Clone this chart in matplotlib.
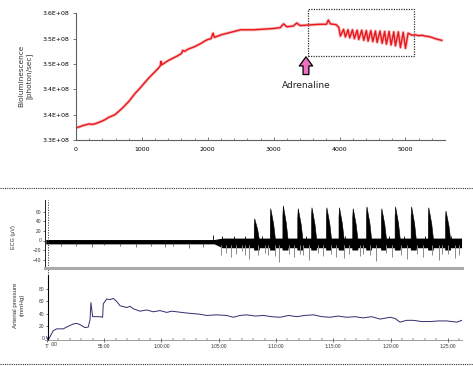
import numpy as np
import matplotlib.pyplot as plt
from matplotlib.lines import Line2D
from matplotlib.patches import Rectangle

# ---------------- top panel: bioluminescence (units of 1e8 photon/sec) ----------------
biolum_pre_x = [0, 50, 100, 150, 200, 250, 300, 350, 400, 450, 500, 550, 600, 650, 700,
                750, 800, 850, 900, 950, 1000, 1050, 1100, 1150, 1200, 1250, 1280, 1290,
                1300, 1350, 1400, 1450, 1500, 1550, 1600, 1620, 1650, 1700, 1750, 1800,
                1850, 1900, 1950, 2000, 2050, 2080, 2100, 2150, 2200, 2250, 2300, 2350,
                2400, 2450, 2500, 2600, 2700, 2800, 2900, 3000, 3100, 3150, 3200, 3300,
                3350, 3400, 3500, 3600, 3700, 3800, 3830, 3860, 3950, 3990]
biolum_pre_y = [3.329, 3.331, 3.334, 3.336, 3.338, 3.337, 3.339, 3.342, 3.345, 3.349,
                3.354, 3.357, 3.361, 3.368, 3.375, 3.383, 3.391, 3.401, 3.411, 3.419,
                3.428, 3.437, 3.446, 3.454, 3.462, 3.470, 3.476, 3.486, 3.478, 3.483,
                3.488, 3.492, 3.496, 3.500, 3.505, 3.512, 3.510, 3.515, 3.518, 3.521,
                3.525, 3.529, 3.534, 3.538, 3.540, 3.553, 3.543, 3.546, 3.549, 3.551,
                3.553, 3.555, 3.557, 3.559, 3.561, 3.561, 3.561, 3.562, 3.563, 3.564,
                3.566, 3.575, 3.568, 3.570, 3.577, 3.571, 3.572, 3.573, 3.574, 3.574,
                3.584, 3.575, 3.573, 3.566]
trough_x = [4012, 4088, 4154, 4225, 4291, 4367, 4433, 4504, 4570, 4646, 4711, 4782,
            4848, 4924, 5000]
trough_y = [3.546, 3.544, 3.542, 3.540, 3.538, 3.536, 3.534, 3.533, 3.531, 3.529,
            3.527, 3.525, 3.523, 3.519, 3.517]
peak_x = [4060, 4128, 4196, 4266, 4336, 4406, 4474, 4544, 4614, 4684, 4752, 4822,
          4892, 4966, 5040]
peak_y = [3.562, 3.561, 3.561, 3.560, 3.560, 3.559, 3.559, 3.558, 3.558, 3.557,
          3.557, 3.556, 3.556, 3.555, 3.553]
biolum_post_x = [5100, 5150, 5200, 5250, 5300, 5350, 5400, 5450, 5500, 5550]
biolum_post_y = [3.548, 3.549, 3.547, 3.548, 3.546, 3.545, 3.543, 3.540, 3.538, 3.536]

top_yticks = [3.30, 3.36, 3.42, 3.48, 3.54, 3.60]
top_yticklabels = ['3.3E+08', '3.4E+08', '3.4E+08', '3.5E+08', '3.5E+08', '3.6E+08']

# ---------------- bottom panels: time in minutes ----------------
ecg_band_t = [49.9, 64.6, 65.3, 86.2]
ecg_band_hi = [2, 2, 5, 5]
ecg_band_lo = [-7, -7, -15, -15]
ecg_dn_t = [51.2, 52.5, 53.9, 55.0, 56.4, 57.8, 59.1, 60.3, 61.0, 62.4, 63.6]
ecg_dn_v = [-12, -11, -13, -10, -12, -14, -11, -13, -12, -15, -13]
ecg_up_t = [64.5, 65.3, 66.3, 67.3, 68.8, 70.9, 72.6, 74.5, 76.0, 78.0, 79.9, 81.2, 83.0, 85.3]
ecg_up_v = [12, 10, 9, 10, 9, 10, 9, 11, 9, 10, 9, 10, 9, 10]
ecg_gray_t = [65.2, 65.6, 66.1, 66.5, 67.0, 67.3, 67.6, 68.4, 69.0, 69.3, 69.9, 70.3,
              71.1, 71.6, 72.1, 72.4, 72.9, 73.7, 74.1, 74.8, 75.2, 75.9, 76.4, 77.3,
              77.6, 78.2, 78.7, 79.6, 80.1, 80.9, 81.4, 82.3, 82.8, 83.6, 84.2, 84.5,
              85.0, 85.6, 86.0]
ecg_gray_v = [-30, -25, -35, -28, -22, -30, -38, -30, -25, -31, -33, -45, -28, -35, -27,
              -30, -40, -26, -33, -29, -34, -36, -27, -33, -28, -30, -42, -26, -35, -30,
              -38, -28, -34, -31, -40, -29, -27, -36, -30]
burst_t = [68.1, 69.5, 70.6, 71.9, 73.1, 74.4, 75.5, 76.7, 77.9, 79.2, 80.4, 81.8, 83.3, 84.8]
burst_peak = [45, 66, 72, 66, 68, 68, 68, 66, 70, 66, 70, 70, 68, 61]

pres_t = [49.97, 50.12, 50.26, 50.55, 50.85, 51.43, 51.72, 52.30, 52.59, 52.88, 53.32,
          53.61, 53.76, 53.84, 53.99, 54.63, 54.86, 54.92, 55.21, 55.50, 55.79, 56.09,
          56.38, 56.96, 57.25, 57.54, 58.12, 58.71, 59.29, 59.87, 60.46, 60.90, 61.33,
          62.20, 62.80, 63.36, 63.95, 64.82, 65.69, 66.27, 66.86, 67.44, 68.20, 68.89,
          69.60, 70.35, 71.10, 71.81, 72.50, 73.26, 74.00, 74.72, 75.40, 76.17, 76.90,
          77.62, 78.36, 79.08, 79.96, 80.40, 80.83, 81.40, 81.99, 82.70, 83.45, 84.20,
          84.91, 85.78, 86.22]
pres_v = [2, -3, 2, 12, 15, 15, 18, 23, 24, 22, 17, 18, 30, 58, 35, 35, 34, 56, 64, 63,
          65, 60, 53, 50, 52, 48, 44, 46, 43, 45, 42, 44, 43, 41, 40, 39, 37, 38, 37, 34,
          37, 38, 36, 37, 35, 34, 37, 35, 37, 38, 35, 34, 36, 34, 35, 33, 35, 31, 34, 32,
          26, 29, 29, 27, 27, 28, 28, 26, 29]
time_ticks = [50, 55, 60, 65, 70, 75, 80, 85]
time_labels = ['', '55:00', '1:00:00', '1:05:00', '1:10:00', '1:15:00', '1:20:00', '1:25:00']

W, H = 473, 366
fig = plt.figure(figsize=(W / 100, H / 100), dpi=100)

# ---------------- top panel ----------------
ax = fig.add_axes([76 / W, 1 - 140 / H, 369 / W, 126.7 / H])
bx = biolum_pre_x + [v for pair in zip(trough_x, peak_x) for v in pair] + biolum_post_x
by = biolum_pre_y + [v for pair in zip(trough_y, peak_y) for v in pair] + biolum_post_y
ax.plot(bx, by, color='#f06060', lw=2.2, alpha=0.45)
ax.plot(bx, by, color='#e8181e', lw=1.0)
ax.set_xlim(0, 5600)
ax.set_ylim(3.3, 3.6)
ax.set_yticks(top_yticks)
ax.set_yticklabels(top_yticklabels)
ax.set_xticks(range(0, 6000, 1000))
ax.set_xticks(range(0, 5600, 200), minor=True)
for s in ['top', 'right']:
    ax.spines[s].set_visible(False)
for s in ['left', 'bottom']:
    ax.spines[s].set_color('#606060')
    ax.spines[s].set_linewidth(0.8)
ax.tick_params(axis='y', labelsize=4.5, length=2, width=0.6, color='#606060', pad=3)
ax.tick_params(axis='x', which='major', direction='in', labelsize=4.5, length=2.5,
               width=0.6, color='#606060', pad=5)
ax.tick_params(axis='x', which='minor', direction='in', length=1.8, width=0.5, color='#606060')
fig.text(25 / W, 1 - 76 / H, 'Bioluminescence\n[photon/sec]', rotation=90,
         ha='center', va='center', fontsize=5.3, color='#333333', linespacing=1.3)

ax.add_patch(Rectangle((3520, 3.499), 1617, 0.111, fill=False, ec='#333333',
                       ls=(0, (1, 1)), lw=0.9, clip_on=False))
ax.annotate('', xy=(3490, 3.497), xytext=(3490, 3.455),
            arrowprops=dict(arrowstyle='simple,head_length=0.55,head_width=0.8,tail_width=0.35',
                            fc='#ee6fbd', ec='black', lw=0.9, mutation_scale=12,
                            shrinkA=0, shrinkB=0))
ax.text(3490, 3.43, 'Adrenaline', ha='center', va='center', fontsize=6.5, color='#222222')

# dotted separators
for yy in [188, 364]:
    fig.add_artist(Line2D([0, 1], [1 - yy / H, 1 - yy / H], transform=fig.transFigure,
                          color='#333333', ls=(0, (1, 1)), lw=0.8))

plt.rcParams['font.family'] = ['Liberation Sans', 'DejaVu Sans']
xl = (49.83, 86.24)

# ---------------- ECG panel ----------------
ax2 = fig.add_axes([45 / W, 1 - 267.5 / H, 417 / W, 67.5 / H])
ax2.vlines(ecg_gray_t, -10, ecg_gray_v, color='#8a8a8a', lw=0.7)
ax2.fill_between(ecg_band_t, ecg_band_lo, ecg_band_hi, color='black', lw=0)
ax2.vlines(ecg_dn_t, -5, ecg_dn_v, color='#444444', lw=0.5)
ax2.vlines(ecg_up_t, 0, ecg_up_v, color='black', lw=0.6)
for t, h in zip(burst_t, burst_peak):
    ax2.fill([t, t, t + 0.04, t + 0.12, t + 0.3, t + 0.46, t + 0.46, t],
             [0, h * 0.7, h, h * 0.85, h * 0.5, 0, -20, -20],
             color='black', lw=0.4)
ax2.axvline(50.1, ymin=-0.15, ymax=1.0, color='#333333', ls=(0, (1.5, 1.5)), lw=0.6,
            clip_on=False)
ax2.set_xlim(*xl)
ax2.set_ylim(-56, 84)
ax2.set_xticks([])
ax2.set_yticks([60, 40, 20, 0, -20, -40])
for s in ['top', 'right']:
    ax2.spines[s].set_visible(False)
ax2.spines['left'].set_linewidth(0.6)
ax2.spines['bottom'].set_color('#aaaaaa')
ax2.spines['bottom'].set_linewidth(2.2)
ax2.tick_params(axis='y', labelsize=3.5, length=1.5, width=0.4, pad=1, labelcolor='#333333')
fig.text(13 / W, 1 - 237 / H, 'ECG (μV)', rotation=90, ha='center', va='center',
         fontsize=4, color='#333333')

# ---------------- arterial pressure panel ----------------
ax3 = fig.add_axes([45 / W, 1 - 340 / H, 417 / W, 65 / H])
ax3.plot(pres_t, pres_v, color='#2e2d6e', lw=0.7)
ax3.set_xlim(*xl)
ax3.set_ylim(-3.3, 103.4)
ax3.set_yticks([0, 20, 40, 60, 80])
ax3.set_xticks(time_ticks)
ax3.set_xticklabels(time_labels)
ax3.set_xticks(np.arange(50, 87, 1), minor=True)
for s in ['top', 'right']:
    ax3.spines[s].set_visible(False)
ax3.spines['left'].set_position(('data', 50.1))
ax3.spines['left'].set_linewidth(0.8)
ax3.spines['bottom'].set_color('#777777')
ax3.spines['bottom'].set_linewidth(0.5)
ax3.tick_params(axis='y', labelsize=3.5, length=1.5, width=0.4, pad=1, labelcolor='#333333')
ax3.tick_params(axis='x', which='major', direction='inout', labelsize=3.5, length=2.5,
                width=0.4, pad=1.5, labelcolor='#333333')
ax3.tick_params(axis='x', which='minor', direction='in', length=1.2, width=0.3)
ax3.text(50.0, -0.1, 'T', transform=ax3.get_xaxis_transform(), ha='center', va='center',
         fontsize=4.5, color='#333333')
ax3.text(50.35, -0.075, ':00', transform=ax3.get_xaxis_transform(), ha='left', va='center',
         fontsize=3.5, color='#333333')
fig.text(19 / W, 1 - 305 / H, 'Arterial pressure\n(mmHg)', rotation=90, ha='center',
         va='center', fontsize=4.5, color='#333333', linespacing=1.5)

fig.savefig('out.png', dpi=100)
